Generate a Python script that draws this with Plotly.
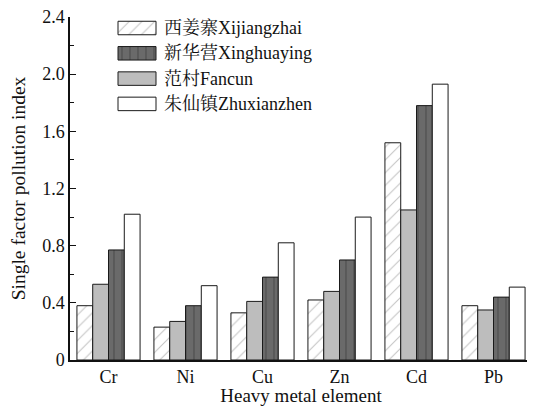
import plotly.graph_objects as go

elements = ["Cr", "Ni", "Cu", "Zn", "Cd", "Pb"]
xijiangzhai = [0.38, 0.23, 0.33, 0.42, 1.52, 0.38]
fancun = [0.53, 0.27, 0.41, 0.48, 1.05, 0.35]
xinghuaying = [0.77, 0.38, 0.58, 0.70, 1.78, 0.44]
zhuxianzhen = [1.02, 0.52, 0.82, 1.00, 1.93, 0.51]
legend_names = ["西姜寨Xijiangzhai", "新华营Xinghuaying", "范村Fancun", "朱仙镇Zhuxianzhen"]
y_tickvals = [0, 0.4, 0.8, 1.2, 1.6, 2.0, 2.4]
y_ticktext = ["0", "0.4", "0.8", "1.2", "1.6", "2.0", "2.4"]
y_minor = [0.2, 0.6, 1.0, 1.4, 1.8, 2.2]

# page body has an 8px margin, so the figure is sized/offset to compensate
OFF = 8
W, H = 535 - OFF, 406 - OFF
ML, MR, MT, MB = 70 - OFF, 3, 17 - OFF, 46
font = "Liberation Serif, Times New Roman, serif"
cjk_font = "Liberation Serif, Noto Serif CJK SC, Noto Sans CJK SC, serif"
line = dict(color="#1a1a1a", width=1)

styles = {
    "hatch": dict(color="white", pattern=dict(shape="/", fgcolor="#8a8a8a", bgcolor="white", size=9, solidity=0.12)),
    "dark": dict(color="#6a6a6a", pattern=dict(shape="|", fgcolor="#2a2a2a", bgcolor="#6a6a6a", size=8, solidity=0.13)),
    "light": dict(color="#bdbdbd"),
    "white": dict(color="white"),
}

fig = go.Figure()
for vals, key, nm in [(xijiangzhai, "hatch", legend_names[0]), (fancun, "light", legend_names[2]),
                      (xinghuaying, "dark", legend_names[1]), (zhuxianzhen, "white", legend_names[3])]:
    fig.add_bar(x=elements, y=vals, name=nm, showlegend=False,
                marker=dict(line=line, **styles[key]))

# custom legend (wide swatches like the original) on a pixel-mapped overlay axis pair
sw_x0, sw_x1, sw_h, y_first, y_step, txt_x = 110, 148, 13.5, 20, 25.3, 154
for i, (nm, key) in enumerate(zip(legend_names, ["hatch", "dark", "light", "white"])):
    yc = y_first + i * y_step
    y0, y1 = yc - sw_h / 2, yc + sw_h / 2
    st = styles[key]
    kw = dict(fillcolor=st["color"])
    if "pattern" in st:
        kw["fillpattern"] = st["pattern"]
    fig.add_scatter(x=[sw_x0, sw_x1, sw_x1, sw_x0, sw_x0], y=[y0, y0, y1, y1, y0],
                    xaxis="x2", yaxis="y2", mode="lines", fill="toself",
                    line=dict(color="#1a1a1a", width=1), showlegend=False, hoverinfo="skip", **kw)
    fig.add_annotation(x=txt_x, y=yc, xref="x2", yref="y2", text=nm, showarrow=False,
                       xanchor="left", yanchor="middle", font=dict(family=cjk_font, size=18, color="#111111"))

fig.update_layout(
    width=W, height=H,
    margin=dict(l=ML, r=MR, t=MT, b=MB),
    paper_bgcolor="white", plot_bgcolor="white",
    barmode="group", bargap=0.18, bargroupgap=0,
    font=dict(family=font, size=18, color="#111111"),
    showlegend=False,
    xaxis=dict(showline=True, linecolor="#111111", linewidth=1.5, ticks="",
               automargin=False, title=dict(text="Heavy metal element", font=dict(family=font, size=19)),
               tickfont=dict(family=font, size=18), range=[-0.5, 5.5]),
    yaxis=dict(showline=True, linecolor="#111111", linewidth=1.5, range=[0, 2.4],
               automargin=False, tickvals=y_tickvals, ticktext=y_ticktext, ticklabeloverflow="allow",
               ticks="inside", ticklen=6, tickwidth=1.2, tickcolor="#111111",
               minor=dict(tickvals=y_minor, ticks="inside", ticklen=4, tickwidth=1.2, tickcolor="#111111"),
               showgrid=False, zeroline=False,
               title=dict(text="Single factor pollution index", font=dict(family=font, size=19.5)),
               tickfont=dict(family=font, size=18)),
    xaxis2=dict(overlaying="x", anchor="y2", range=[ML, W - MR], visible=False, fixedrange=True),
    yaxis2=dict(overlaying="y", anchor="x2", range=[H - MB, MT], visible=False, fixedrange=True),
)

fig.write_html("out.html")
